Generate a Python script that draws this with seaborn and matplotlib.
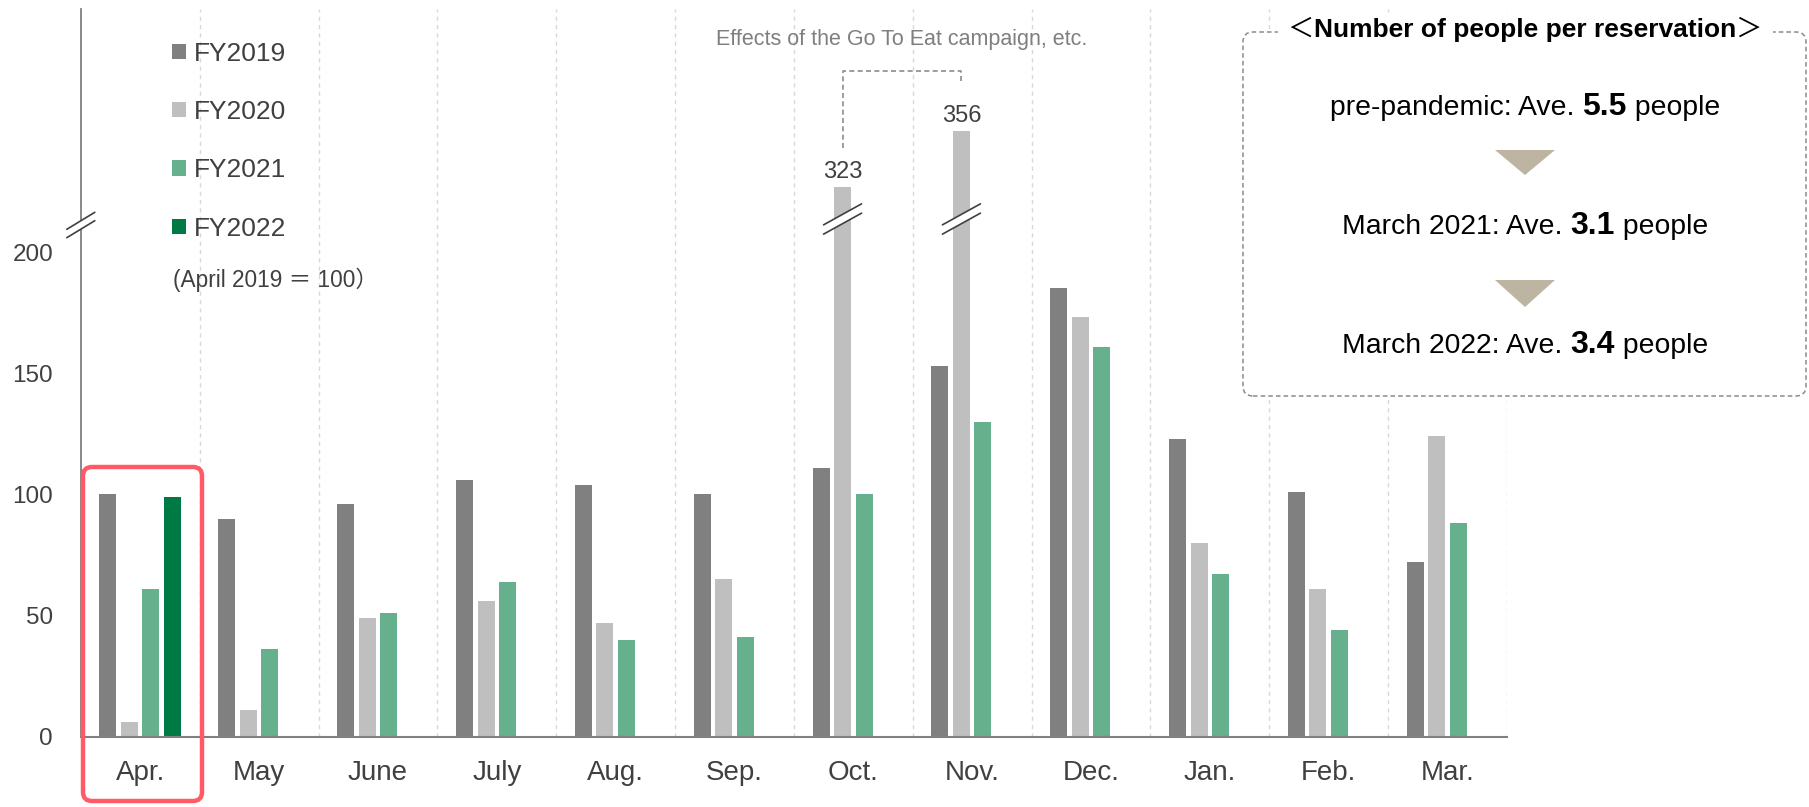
import numpy as np
import pandas as pd
import matplotlib
matplotlib.use("Agg")
import matplotlib.pyplot as plt
import seaborn as sns
from matplotlib.patches import Patch, FancyBboxPatch, Polygon
from matplotlib.lines import Line2D
from matplotlib.transforms import IdentityTransform, blended_transform_factory

# ---- data (index, April 2019 = 100) ----
months = ["Apr.", "May", "June", "July", "Aug.", "Sep.", "Oct.", "Nov.", "Dec.", "Jan.", "Feb.", "Mar."]
fiscal_years = ["FY2019", "FY2020", "FY2021", "FY2022"]
fy2019 = [100, 90, 96, 106, 104, 100, 111, 153, 185, 123, 101, 72]
fy2020 = [6, 11, 49, 56, 47, 65, 323, 356, 173, 80, 61, 124]
fy2021 = [61, 36, 51, 64, 40, 41, 100, 130, 161, 67, 44, 88]
fy2022 = [99]
y_ticks = [0, 50, 100, 150, 200]
colors = ["#808080", "#BFBFBF", "#66B08E", "#007A45"]

note_title = ("＜", "Number of people per reservation", "＞")
note_lines = [
    ("pre-pandemic: Ave. ", "5.5", " people"),
    ("March 2021: Ave. ", "3.1", " people"),
    ("March 2022: Ave. ", "3.4", " people"),
]
campaign_note = "Effects of the Go To Eat campaign, etc."
index_note = "(April 2019 ＝ 100）"

series = {"FY2019": fy2019, "FY2020": fy2020, "FY2021": fy2021, "FY2022": fy2022}
rows = []
for fy, vals in series.items():
    for m, v in zip(months, vals):
        rows.append({"month": m, "year": fy, "value": v})
df = pd.DataFrame(rows)

sns.set_theme(style="white")
plt.rcParams["font.family"] = ["Liberation Sans", "Noto Sans CJK JP", "DejaVu Sans"]
TXT = "#404040"

W, H = 1809, 807
fig = plt.figure(figsize=(W / 100, H / 100), dpi=100)
ax_left, ax_right, ax_top, ax_bottom = 80.8, 1507.0, 9.0, 736.7
ax = fig.add_axes([ax_left / W, (H - ax_bottom) / H, (ax_right - ax_left) / W, (ax_bottom - ax_top) / H])

# broken value axis: linear up to 200, compressed above the break
src = [0, 200, 290, 500]
dst = [0, 200, 203.4, 351.7]
fwd = lambda v: np.interp(v, src, dst)
inv = lambda v: np.interp(v, dst, src)
ax.set_yscale("function", functions=(fwd, inv))

sns.barplot(data=df, x="month", y="value", hue="year", order=months, hue_order=fiscal_years,
            palette=colors, saturation=1, width=0.724, gap=0.21, errorbar=None,
            linewidth=0, legend=False, ax=ax, zorder=2)

ax.set_xlim(-0.5, 11.5)
ax.set_ylim(0, inv(300.3))
ax.set_yticks(y_ticks)
ax.set_yticklabels([str(t) for t in y_ticks])
ax.set_xlabel("")
ax.set_ylabel("")

for k in range(1, 13):
    ax.axvline(k - 0.5, color="#D9D9D9", lw=1, ls=(0, (3, 3)), zorder=0)

for s in ["top", "right"]:
    ax.spines[s].set_visible(False)
ax.spines["left"].set_color("#808080")
ax.spines["left"].set_linewidth(1.3)
ax.spines["bottom"].set_color("#808080")
ax.spines["bottom"].set_linewidth(1.5)
ax.spines["bottom"].set_zorder(3)
ax.tick_params(axis="x", length=0, pad=17, labelsize=20, labelcolor=TXT)
ax.tick_params(axis="y", length=0, pad=20, labelsize=17.5, labelcolor=TXT)

# legend
handles = [Patch(facecolor=c, edgecolor="none", label=l) for c, l in zip(colors, fiscal_years)]
leg = ax.legend(handles=handles, loc="upper left", bbox_to_anchor=(0.064, 0.955), frameon=False,
                fontsize=19, handlelength=0.52, handleheight=0.52, handletextpad=0.3,
                labelspacing=1.3, borderaxespad=0, borderpad=0)
for t in leg.get_texts():
    t.set_color(TXT)
ax.text(0.0646, 0.628, index_note, transform=ax.transAxes, fontsize=16.3, color=TXT,
        ha="left", va="center")

# value labels and break marks on the tall FY2020 bars
tall_cont = ax.containers[1]
labels = [str(v) if v > 200 else "" for v in fy2020]
ax.bar_label(tall_cont, labels=labels, padding=3, fontsize=17, color=TXT)
tall_x = [b.get_x() + b.get_width() / 2 for b, v in zip(tall_cont, fy2020) if v > 200]


def draw_break(cx, cy, hdx, hdy, sep):
    poly = Polygon([(cx - hdx, cy - hdy - sep / 2), (cx + hdx, cy + hdy - sep / 2),
                    (cx + hdx, cy + hdy + sep / 2), (cx - hdx, cy - hdy + sep / 2)],
                   closed=True, facecolor="white", edgecolor="none",
                   transform=IdentityTransform(), zorder=5)
    fig.add_artist(poly)
    for d in (-sep / 2, sep / 2):
        fig.add_artist(Line2D([cx - hdx, cx + hdx], [cy - hdy + d, cy + hdy + d], color=TXT,
                              lw=1.2, transform=IdentityTransform(), zorder=6))


for x in tall_x:
    cx = ax.transData.transform((x, 0))[0]
    draw_break(cx, H - 219, 19, 10.5, 9.3)
draw_break(ax_left, H - 225, 14, 8.5, 8.4)

# bracket pointing at the campaign months
bt = blended_transform_factory(ax.transData, ax.transAxes)
fy_top = lambda py: 1 - (py - ax_top) / (ax_bottom - ax_top)
x_oct, x_nov = tall_x
ax.plot([x_oct, x_oct, x_nov, x_nov], [fy_top(148), fy_top(71.5), fy_top(71.5), fy_top(83)],
        transform=bt, color="#8c8c8c", lw=1.2, ls=(0, (3, 2)), clip_on=False, zorder=4)
ax.text((x_oct + x_nov) / 2, fy_top(40), campaign_note, transform=bt, ha="center", va="center",
        fontsize=15.5, color="#7f7f7f")

# highlight frame around April
fig.add_artist(FancyBboxPatch((83, H - 801), 119, 334, boxstyle="round,pad=0,rounding_size=9",
                              facecolor="none", edgecolor="#FF5A66", lw=3.2,
                              transform=IdentityTransform(), zorder=7))

# info panel
bx0, bx1, by0, by1 = 1243, 1806, 32, 396
fig.add_artist(FancyBboxPatch((bx0, H - by1), bx1 - bx0, by1 - by0,
                              boxstyle="round,pad=0,rounding_size=10", facecolor="white",
                              edgecolor="#8c8c8c", lw=1.1, ls=(0, (3, 2)),
                              transform=IdentityTransform(), zorder=8))
cx_panel = (bx0 + bx1) / 2 + 0.5
renderer = fig.canvas.get_renderer()


def centered_run(parts, y_base, zorder=9, bbox=None):
    texts = [fig.text(0, H - y_base, s, transform=IdentityTransform(), fontsize=fs, fontweight=fw,
                      color="black", ha="left", va="baseline", zorder=zorder) for s, fs, fw in parts]
    widths = [t.get_window_extent(renderer).width for t in texts]
    total = sum(widths)
    x = cx_panel - total / 2
    if bbox is not None:
        fig.add_artist(FancyBboxPatch((x - 10, H - y_base - 8), total + 20, 30,
                                      boxstyle="square,pad=0", facecolor="white", edgecolor="none",
                                      transform=IdentityTransform(), zorder=zorder - 0.5))
    for t, w in zip(texts, widths):
        t.set_x(x)
        x += w


centered_run([(note_title[0], 19, "normal"), (note_title[1], 19, "bold"), (note_title[2], 19, "normal")],
             37, bbox=True)

baselines = [115, 234, 353]
for (a, b, c), yb in zip(note_lines, baselines):
    centered_run([(a, 20.4, "normal"), (b, 23, "bold"), (c, 20.4, "normal")], yb)

for ty0, ty1 in [(150, 175), (280, 307)]:
    fig.add_artist(Polygon([(cx_panel - 30, H - ty0), (cx_panel + 30, H - ty0), (cx_panel, H - ty1)],
                           closed=True, facecolor="#BDB5A1", edgecolor="none",
                           transform=IdentityTransform(), zorder=9))

fig.savefig("out.png", dpi=100)
